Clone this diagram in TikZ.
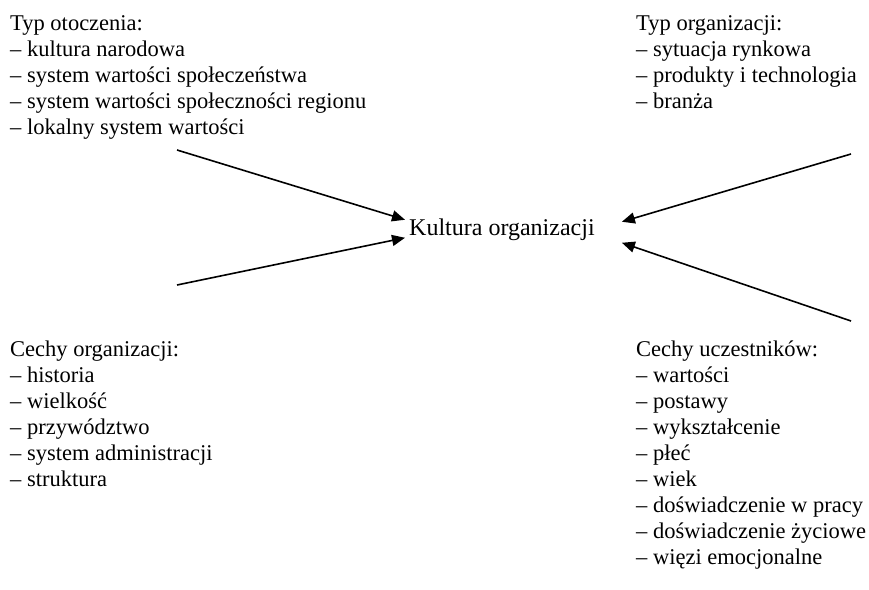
\documentclass[tikz,border=0pt]{standalone}
\usepackage{fontspec}
\setmainfont{Liberation Serif}
\usetikzlibrary{arrows.meta,positioning,calc}
\tikzset{
  listbox/.style={align=left, inner sep=0pt, anchor=base west, font=\fontsize{22.5}{26}\selectfont},
  centerbox/.style={inner sep=2pt, font=\fontsize{24}{26}\selectfont},
  infline/.style={-{Triangle[length=13pt,width=11pt]}, line width=1.6pt}
}

\begin{document}
\begin{tikzpicture}[x=1pt,y=-1pt]
  \useasboundingbox (0,0) rectangle (869,589);
  % lists are placed by the baseline of their last line
  \node[listbox] (otocz) at (10,134) {Typ otoczenia:\\– kultura narodowa\\– system wartości społeczeństwa\\– system wartości społeczności regionu\\– lokalny system wartości};
  \node[listbox] (typorg) at (636,108) {Typ organizacji:\\– sytuacja rynkowa\\– produkty i technologia\\– branża};
  \node[listbox] (cechorg) at (10,486) {Cechy organizacji:\\– historia\\– wielkość\\– przywództwo\\– system administracji\\– struktura};
  \node[listbox] (uczest) at (636,564) {Cechy uczestników:\\– wartości\\– postawy\\– wykształcenie\\– płeć\\– wiek\\– doświadczenie w pracy\\– doświadczenie życiowe\\– więzi emocjonalne};
  \node[centerbox, anchor=base west] (kultura) at (407,235) {Kultura organizacji};
  % free ends of the arrows
  \coordinate (a1) at (177,150);
  \coordinate (a2) at (177,285);
  \coordinate (a3) at (851,154);
  \coordinate (a4) at (851,321);
  \draw[infline] (a1) -- ([xshift=-2pt,yshift=9.5pt]kultura.west);
  \draw[infline] (a2) -- ([xshift=-2pt,yshift=-8.5pt]kultura.west);
  \draw[infline] (a3) -- ([xshift=25pt,yshift=7.5pt]kultura.east);
  \draw[infline] (a4) -- ([xshift=25pt,yshift=-13.5pt]kultura.east);
\end{tikzpicture}
\end{document}
